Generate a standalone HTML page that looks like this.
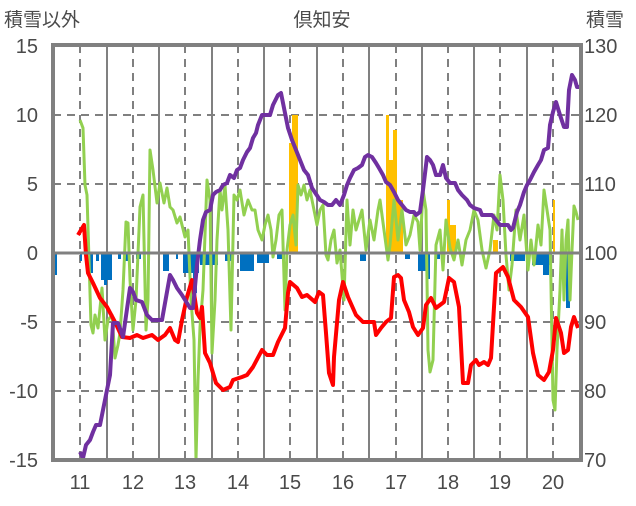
<!DOCTYPE html><html><head><meta charset="utf-8"><style>body{margin:0;background:#fff}svg text{font-family:"Liberation Sans","Noto Sans CJK JP",sans-serif;fill:#4a4a4a}</style></head><body>
<svg width="636" height="501" viewBox="0 0 636 501" xmlns="http://www.w3.org/2000/svg">
<rect width="636" height="501" fill="#fff"/>
<g stroke="#808080" stroke-width="2" stroke-dasharray="8,6">
<line x1="53" y1="115" x2="581" y2="115"/><line x1="53" y1="184" x2="581" y2="184"/><line x1="53" y1="322" x2="581" y2="322"/><line x1="53" y1="391" x2="581" y2="391"/>
<line x1="80" y1="45" x2="80" y2="460"/><line x1="133" y1="45" x2="133" y2="460"/><line x1="185" y1="45" x2="185" y2="460"/><line x1="238" y1="45" x2="238" y2="460"/><line x1="290" y1="45" x2="290" y2="460"/><line x1="343" y1="45" x2="343" y2="460"/><line x1="396" y1="45" x2="396" y2="460"/><line x1="448" y1="45" x2="448" y2="460"/><line x1="500" y1="45" x2="500" y2="460"/><line x1="553" y1="45" x2="553" y2="460"/>
</g>
<g stroke="#808080" stroke-width="2">
<line x1="107" y1="45" x2="107" y2="460"/><line x1="159" y1="45" x2="159" y2="460"/><line x1="212" y1="45" x2="212" y2="460"/><line x1="264" y1="45" x2="264" y2="460"/><line x1="317" y1="45" x2="317" y2="460"/><line x1="369" y1="45" x2="369" y2="460"/><line x1="422" y1="45" x2="422" y2="460"/><line x1="474" y1="45" x2="474" y2="460"/><line x1="527" y1="45" x2="527" y2="460"/>
</g>
<g fill="#ffc000">
<rect x="289" y="143" width="3" height="110"/><rect x="292" y="115" width="6" height="138"/><rect x="386" y="115" width="3" height="138"/><rect x="389" y="160" width="4" height="93"/><rect x="393" y="130" width="4" height="123"/><rect x="397" y="200" width="6" height="53"/><rect x="386" y="225" width="17" height="28"/><rect x="447" y="200" width="3" height="53"/><rect x="450" y="225" width="6" height="28"/><rect x="493" y="240" width="5" height="13"/><rect x="553" y="200" width="2" height="53"/>
</g>
<g fill="#0070c0">
<rect x="55" y="253" width="2" height="22"/><rect x="80" y="253" width="2" height="8"/><rect x="88" y="253" width="5" height="20"/><rect x="96" y="253" width="3" height="8"/><rect x="101" y="253" width="11" height="27"/><rect x="104" y="253" width="3" height="32"/><rect x="118" y="253" width="3" height="6"/><rect x="125" y="253" width="3" height="8"/><rect x="136" y="253" width="5" height="6"/><rect x="163" y="253" width="6" height="18"/><rect x="176" y="253" width="2" height="6"/><rect x="183" y="253" width="16" height="20"/><rect x="193" y="253" width="4" height="40"/><rect x="200" y="253" width="18" height="12"/><rect x="225" y="253" width="8" height="8"/><rect x="240" y="253" width="14" height="18"/><rect x="257" y="253" width="12" height="10"/><rect x="277" y="253" width="8" height="6"/><rect x="360" y="253" width="6" height="8"/><rect x="405" y="253" width="5" height="6"/><rect x="418" y="253" width="12" height="18"/><rect x="427" y="253" width="3" height="26"/><rect x="437" y="253" width="3" height="6"/><rect x="510" y="253" width="15" height="8"/><rect x="532" y="253" width="20" height="12"/><rect x="543" y="253" width="6" height="22"/><rect x="566" y="253" width="4" height="55"/>
</g>
<polyline fill="none" stroke="#92d050" stroke-width="3" stroke-linejoin="round" points="80,120 83,128 85,185 87,195 89,260 91,325 93,333 95,315 98,328 102,288 105,340 108,320 112,315 115,358 118,345 120,333 123,290 126,222 128,223 130,280 133,330 136,300 140,207 143,195 146,330 148,300 150,150 153,170 157,203 160,183 164,203 167,188 170,207 173,210 177,223 180,217 185,237 188,230 191,300 194,340 196,460 198,380 200,327 203,290 207,180 210,200 212,353 215,300 217,240 220,190 222,210 225,185 228,230 231,330 234,195 237,200 240,190 244,215 248,200 252,210 255,210 258,230 262,240 265,225 268,215 271,230 273,257 276,240 279,215 282,210 285,310 287,250 290,225 293,215 296,245 298,185 301,195 304,185 307,200 310,190 313,205 317,225 320,210 323,205 326,255 328,260 331,240 334,230 337,263 340,250 344,300 347,200 350,245 353,210 356,230 359,220 362,210 366,250 370,220 374,240 378,210 380,200 384,230 388,260 390,245 394,200 398,240 402,210 406,245 410,235 414,215 418,222 420,250 423,190 426,210 428,350 430,372 433,360 436,245 440,230 443,270 446,220 450,248 454,260 458,240 462,265 466,240 470,230 474,210 478,220 482,250 486,268 490,250 494,215 497,230 500,175 503,200 506,255 509,290 512,265 516,210 520,240 524,215 528,270 531,240 534,265 538,225 541,245 544,190 547,210 550,230 553,400 555,410 557,350 560,290 562,230 564,300 566,240 568,220 570,300 572,250 574,206 576,212 578,220"/>
<polyline fill="none" stroke="#ff0000" stroke-width="4" stroke-linejoin="round" points="78,235 84,225 86,255 88,273 93,283 100,298 107,307 115,322 122,337 130,338 137,335 143,338 152,335 158,340 165,335 170,328 175,340 178,342 182,320 187,297 192,280 197,313 200,318 202,307 205,353 210,363 216,383 223,390 230,387 233,380 242,377 247,375 253,367 262,350 267,355 273,355 278,342 285,328 288,293 290,282 297,288 302,297 307,295 315,302 319,292 323,295 326,333 329,373 333,385 334,357 339,300 343,282 348,297 356,315 363,322 374,322 376,335 381,328 386,322 391,318 394,277 398,275 401,278 404,300 409,312 413,327 418,335 423,328 426,305 431,298 436,308 444,302 449,278 454,282 459,307 463,383 468,383 471,365 476,360 479,365 484,362 488,365 491,358 496,273 503,267 508,277 514,300 521,307 528,317 533,353 538,375 544,380 549,372 553,350 556,318 561,333 564,353 568,350 571,327 574,317 578,328"/>
<polyline fill="none" stroke="#7030a0" stroke-width="4" stroke-linejoin="round" points="80,452 83,458 86,445 90,440 93,432 96,425 100,425 103,410 106,395 110,375 113,323 118,323 123,337 130,288 133,292 136,300 142,302 147,315 152,320 162,320 170,275 173,280 177,288 182,295 190,308 193,308 197,265 200,240 203,220 206,212 210,210 213,195 216,192 220,190 223,185 227,183 230,175 234,178 237,170 240,168 243,160 247,152 250,148 253,138 256,133 258,125 262,115 265,115 270,115 273,105 278,95 281,93 284,108 288,128 292,140 296,150 300,160 304,170 308,175 312,188 316,194 320,200 324,202 328,205 332,205 336,200 340,205 344,195 347,185 350,178 354,170 358,168 362,165 365,157 368,155 372,157 376,163 379,168 383,175 386,182 390,185 394,192 398,200 402,205 406,210 410,212 414,212 416,215 420,212 423,190 427,157 430,160 433,165 436,175 440,175 443,165 446,178 450,183 455,183 458,190 462,195 467,200 470,205 474,208 480,210 482,215 492,215 496,220 500,225 503,225 508,225 511,230 513,228 517,212 520,205 524,192 527,185 530,180 534,172 538,165 541,160 544,150 548,148 550,125 553,112 556,102 560,115 564,127 567,127 569,90 572,75 575,80 577,87 579,87"/>
<rect x="53" y="45" width="528" height="415" fill="none" stroke="#808080" stroke-width="4"/>
<line x1="53" y1="253" x2="581" y2="253" stroke="#808080" stroke-width="3"/>
<g font-size="20" text-anchor="end">
<text x="38" y="53">15</text><text x="38" y="122">10</text><text x="38" y="191">5</text><text x="38" y="260">0</text><text x="38" y="329">-5</text><text x="38" y="398">-10</text><text x="38" y="467">-15</text>
</g>
<g font-size="20">
<text x="584" y="53">130</text><text x="584" y="122">120</text><text x="584" y="191">110</text><text x="584" y="260">100</text><text x="584" y="329">90</text><text x="584" y="398">80</text><text x="584" y="467">70</text>
</g>
<g font-size="20" text-anchor="middle">
<text x="80" y="489">11</text><text x="133" y="489">12</text><text x="185" y="489">13</text><text x="238" y="489">14</text><text x="290" y="489">15</text><text x="343" y="489">16</text><text x="396" y="489">17</text><text x="448" y="489">18</text><text x="500" y="489">19</text><text x="553" y="489">20</text>
<text x="322" y="26" font-size="19">倶知安</text>
</g>
<text x="4" y="26" font-size="19">積雪以外</text>
<text x="586" y="26" font-size="19">積雪</text>
</svg>
</body></html>
